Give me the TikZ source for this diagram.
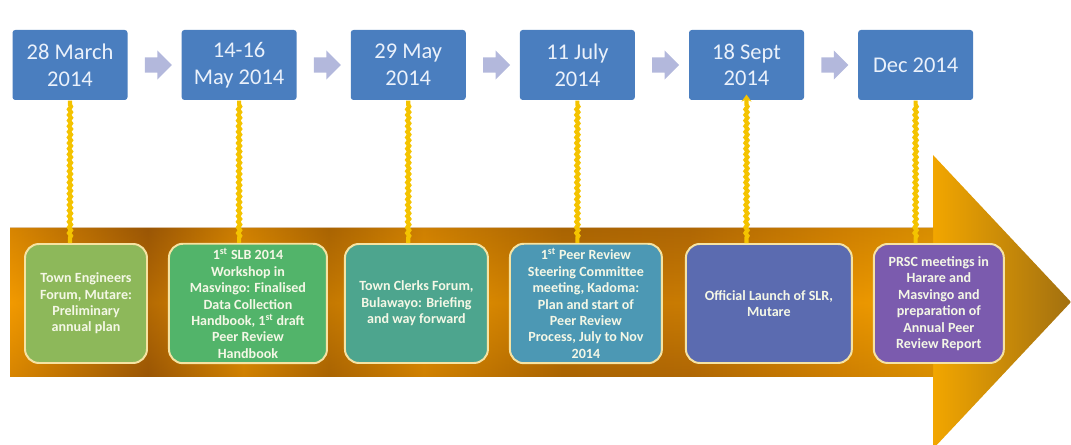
\documentclass[tikz,border=0pt]{standalone}
\usepackage{fontspec}
\setmainfont{Carlito}
\usepackage{tikz}
\usetikzlibrary{arrows.meta, positioning, calc, shapes.arrows, decorations.pathmorphing}

\definecolor{DateBlue}{HTML}{4A7EBF}
\definecolor{DateText}{HTML}{EAF1FB}
\definecolor{StepGrey}{HTML}{B3B8DC}
\definecolor{LinkYellow}{HTML}{F4C300}
\definecolor{EdgeCream}{HTML}{F6E3A2}
\definecolor{EventText}{HTML}{F4F7E6}
\definecolor{EvOlive}{HTML}{8DB85A}
\definecolor{EvGreen}{HTML}{52B46A}
\definecolor{EvTeal}{HTML}{4DA58E}
\definecolor{EvSteel}{HTML}{4C98B4}
\definecolor{EvSlate}{HTML}{5B6BB0}
\definecolor{EvPurple}{HTML}{7B5BAE}
\definecolor{GoldA}{HTML}{F29A00}
\definecolor{GoldB}{HTML}{9A5605}
\definecolor{GoldC}{HTML}{E59200}
\definecolor{GoldD}{HTML}{B06A02}
\definecolor{GoldM}{HTML}{B86E04}
\definecolor{GoldE}{HTML}{F2A600}
\definecolor{GoldF}{HTML}{A27010}

\pgfdeclarehorizontalshading{goldband}{100bp}{color(0bp)=(GoldA); color(25bp)=(GoldA);
  color(31.5bp)=(GoldB); color(36bp)=(GoldC); color(40bp)=(GoldD); color(44.5bp)=(GoldC);
  color(51bp)=(GoldD); color(57bp)=(GoldM); color(64.5bp)=(GoldC); color(68.5bp)=(GoldE);
  color(75bp)=(GoldF); color(100bp)=(GoldF)}

\begin{document}
\begin{tikzpicture}[>=Stealth, thick,
  datebox/.style={fill=DateBlue, rounded corners=2pt, minimum width=2.875cm,
        minimum height=1.75cm, align=center, text=DateText,
        font=\fontsize{16}{19}\selectfont},
  stepmark/.style={single arrow, fill=StepGrey, inner sep=0.175cm,
        minimum height=0.675cm, single arrow head extend=0.175cm},
  eventbox/.style={draw=EdgeCream, line width=1.4pt, rounded corners=0.35cm,
        minimum height=2.975cm, align=center, text=EventText,
        font=\fontsize{10}{11.7}\selectfont\bfseries},
  link/.style={LinkYellow, line width=3pt, decorate,
        decoration={snake, amplitude=0.7pt, segment length=4pt,
        pre length=3pt, post length=2pt}}]
  \useasboundingbox (0,0) rectangle (26.775,11.125);

  % the big timeline arrow
  \shade[shading=goldband] (0.25,5.425) -- (23.325,5.425) -- (23.325,7.25)
        -- (26.775,3.575) -- (23.325,-0.1) -- (23.325,1.7) -- (0.25,1.7) -- cycle;
  \shade[fill opacity=0.3, top color=GoldB, bottom color=GoldB, middle color=GoldA]
        (0.25,1.7) rectangle (23.325,5.425);

  % dates
  \node[datebox] (d28mar) at (1.75,9.5) {28 March\\2014};
  \node[datebox, right=1.325cm of d28mar] (d14may) {14-16\\May 2014};
  \node[datebox, right=1.325cm of d14may] (d29may) {29 May\\2014};
  \node[datebox, right=1.325cm of d29may] (d11jul) {11 July\\2014};
  \node[datebox, right=1.325cm of d11jul] (d18sep) {18 Sept\\2014};
  \node[datebox, right=1.325cm of d18sep] (ddec) {Dec 2014};

  \node[stepmark] (s1) at ($(d28mar)!0.5!(d14may)$) {};
  \node[stepmark] (s2) at ($(d14may)!0.5!(d29may)$) {};
  \node[stepmark] (s3) at ($(d29may)!0.5!(d11jul)$) {};
  \node[stepmark] (s4) at ($(d11jul)!0.5!(d18sep)$) {};
  \node[stepmark] (s5) at ($(d18sep)!0.5!(ddec)$) {};

  % events along the arrow
  \node[eventbox, fill=EvOlive, minimum width=3.05cm] (engineers) at (2.15,3.5375)
        {Town Engineers\\Forum, Mutare:\\Preliminary\\annual plan};
  \node[eventbox, fill=EvGreen, minimum width=3.95cm, right=0.5cm of engineers]
        (workshop) {1\textsuperscript{st} SLB 2014\\Workshop in\\Masvingo: Finalised\\Data Collection\\Handbook, 1\textsuperscript{st} draft\\Peer Review\\Handbook};
  \node[eventbox, fill=EvTeal, minimum width=3.575cm, right=0.4cm of workshop]
        (clerks) {Town Clerks Forum,\\Bulawayo: Briefing\\and way forward};
  \node[eventbox, fill=EvSteel, minimum width=3.8cm, right=0.5cm of clerks]
        (steering) {1\textsuperscript{st} Peer Review\\Steering Committee\\meeting, Kadoma:\\Plan and start of\\Peer Review\\Process, July to Nov\\2014};
  \node[eventbox, fill=EvSlate, minimum width=4.15cm, right=0.55cm of steering]
        (launch) {Official Launch of SLR,\\Mutare};
  \node[eventbox, fill=EvPurple, minimum width=3.25cm, right=0.5cm of launch]
        (prsc) {PRSC meetings in\\Harare and\\Masvingo and\\preparation of\\Annual Peer\\Review Report};

  \draw[link] (d28mar.south) -- (d28mar.south |- engineers.north);
  \draw[link] (d14may.south) -- (d14may.south |- workshop.north);
  \draw[link] (d29may.south) -- (d29may.south |- clerks.north);
  \draw[link] (d11jul.south) -- (d11jul.south |- steering.north);
  \draw[link, {Stealth[length=5pt, width=7pt]}-, shorten <=-0.15cm]
        (d18sep.south) -- (d18sep.south |- launch.north);
  \draw[link] (ddec.south) -- (ddec.south |- prsc.north);
\end{tikzpicture}
\end{document}
